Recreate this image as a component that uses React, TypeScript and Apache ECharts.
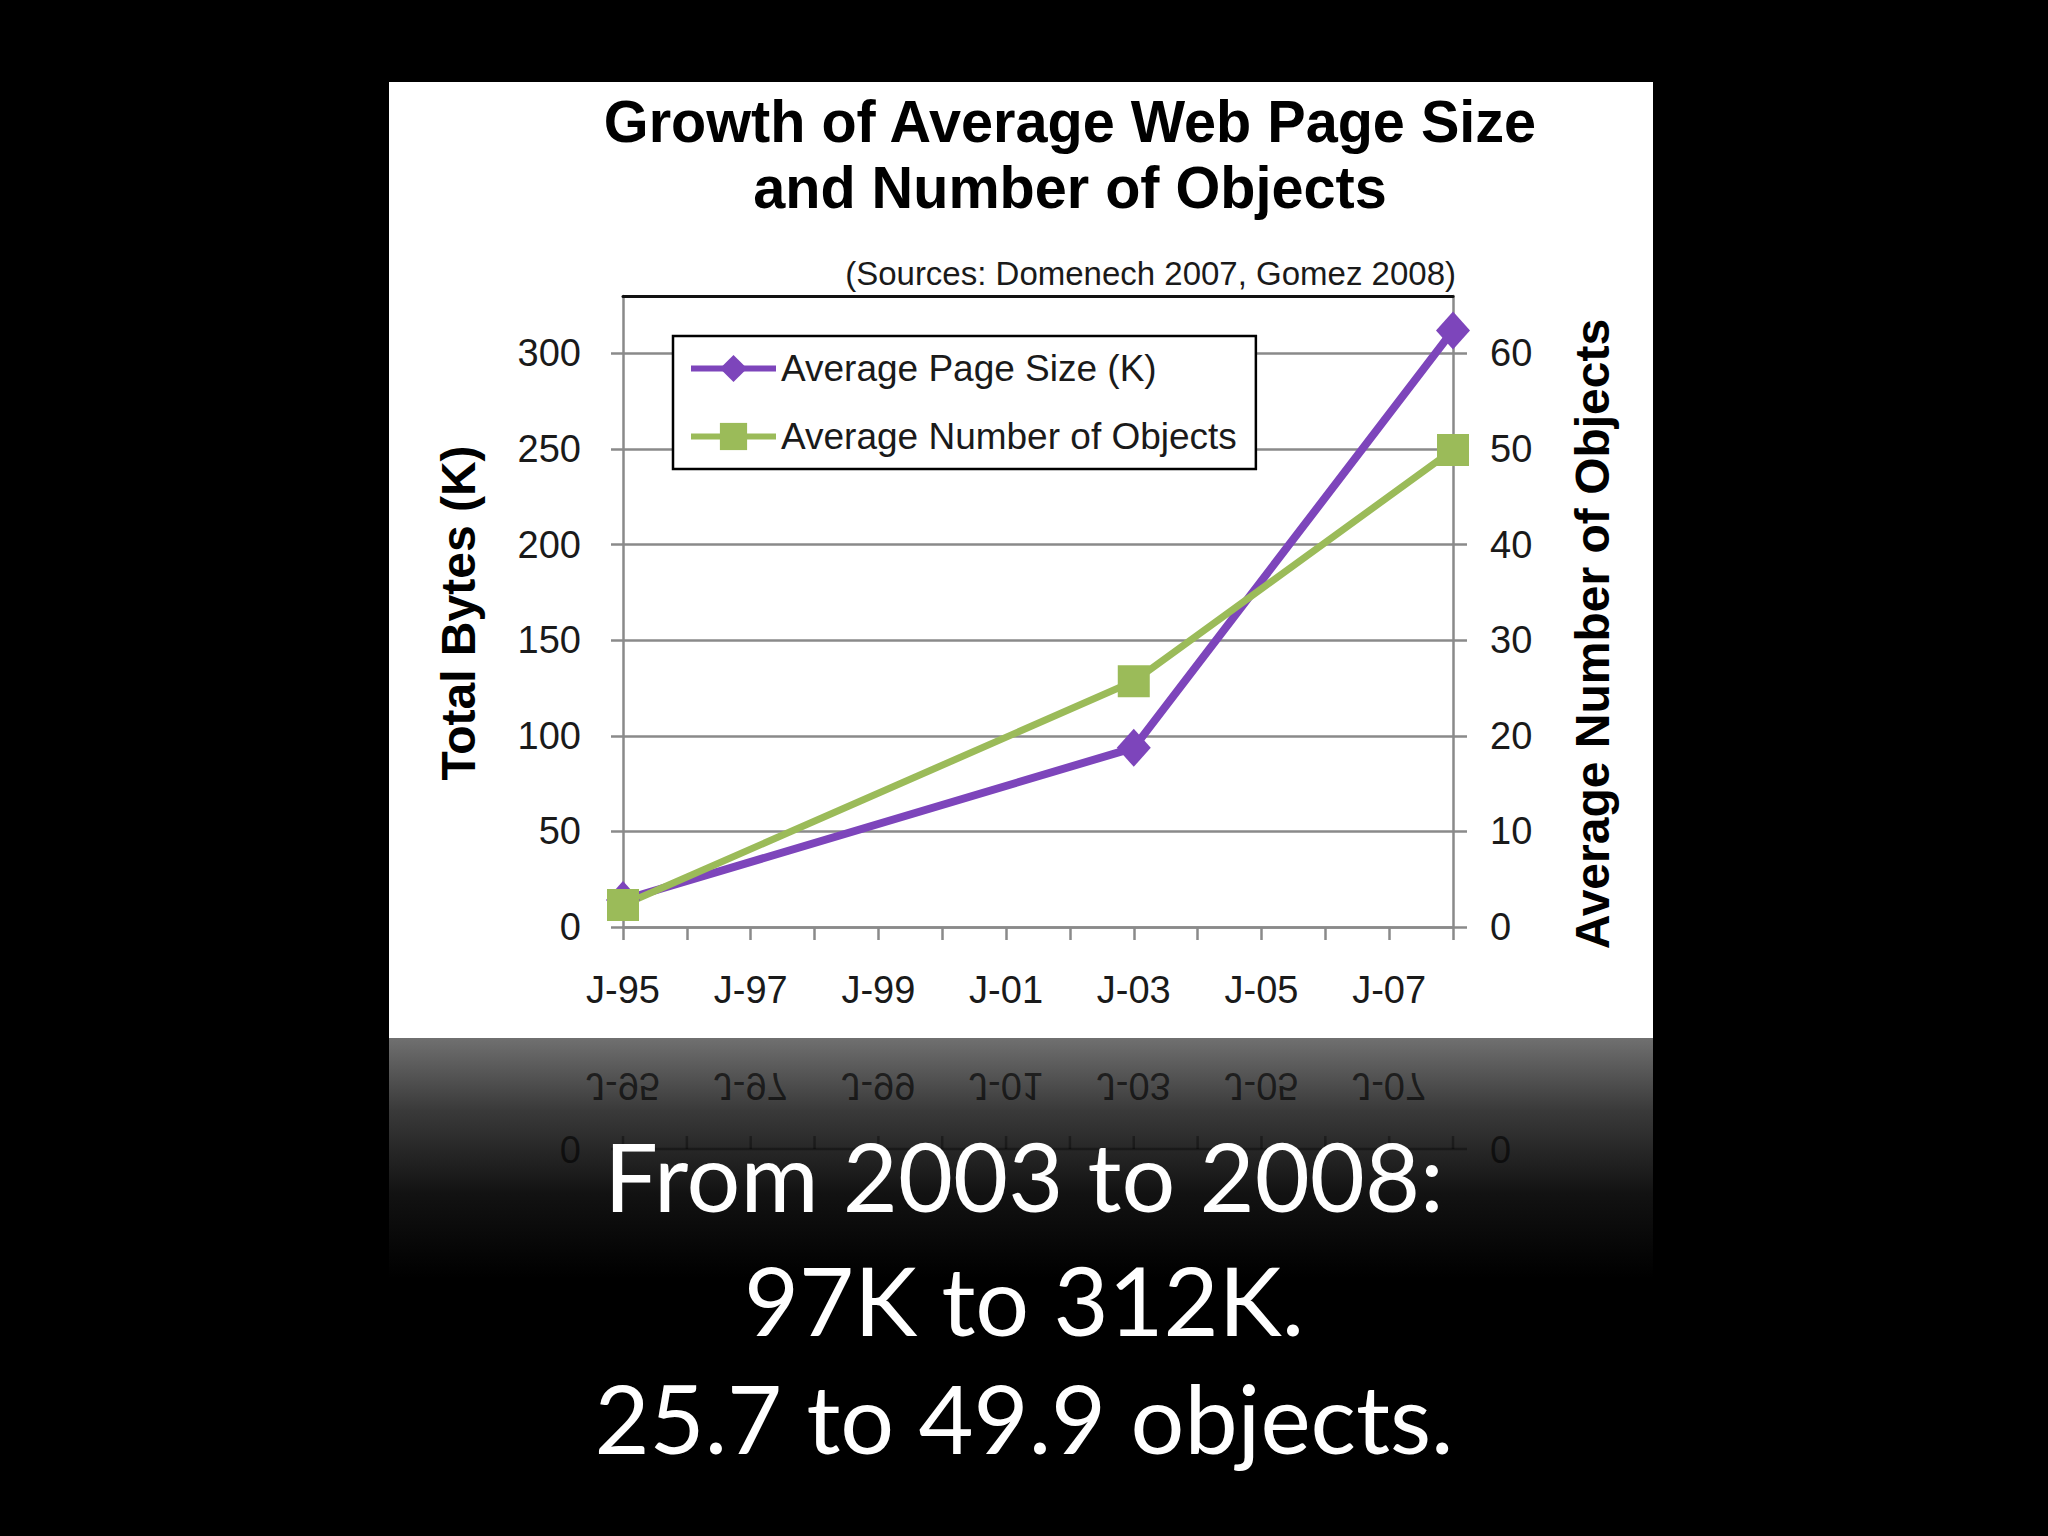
import React, { useEffect, useRef } from "react";
import * as echarts from "echarts";

// ---- data ----
const years = [1995, 2003, 2008];
const pageSizeK = [14.1, 93.7, 312];
const objectCount = [2.3, 25.7, 49.9];
const seriesNames = ["Average Page Size (K)", "Average Number of Objects"];
const leftTicks = [0, 50, 100, 150, 200, 250, 300];
const rightTicks = [0, 10, 20, 30, 40, 50, 60];
const xStart = 1995;
const xEnd = 2008;
const xLabelYears = [1995, 1997, 1999, 2001, 2003, 2005, 2007];
const titleLines = ["Growth of Average Web Page Size", "and Number of Objects"];
const sourceNote = "(Sources: Domenech 2007, Gomez 2008)";
const leftAxisTitle = "Total Bytes (K)";
const rightAxisTitle = "Average Number of Objects";
const captionLines = ["From 2003 to 2008:", "97K to 312K.", "25.7 to 49.9 objects."];

// ---- style ----
const PURPLE = "#7D45BB";
const GREEN = "#9BBB59";
const GRIDGRAY = "#8a8a8a";
const FONT = "'Liberation Sans', Arial, sans-serif";
const CAPTION_FONT = "'Gill Sans', Lato, 'Open Sans', sans-serif";

const fmtYear = (v: number) =>
  xLabelYears.indexOf(v) >= 0 ? "J-" + String(v).slice(2) : "";

const PANEL = { x: 389, y: 82, w: 1264, h: 956 };

export default function App() {
  const ref = useRef<HTMLDivElement>(null);
  useEffect(() => {
    const chart = echarts.init(ref.current!, null, { renderer: "svg" });
    const option: any = {
      animation: false,
      backgroundColor: "#000",
      grid: { left: 623, right: 595, top: 296, bottom: 609, containLabel: false },
      legend: {
        orient: "vertical",
        left: 673,
        top: 336,
        padding: [14, 19, 14, 15],
        itemGap: 31,
        itemWidth: 85,
        itemHeight: 34,
        borderColor: "#000",
        borderWidth: 2.5,
        backgroundColor: "#fff",
        lineStyle: { width: 6 },
        textStyle: { fontFamily: FONT, fontSize: 37, color: "#1a1a1a" },
        data: seriesNames,
      },
      xAxis: [
        {
          type: "value",
          min: xStart,
          max: xEnd,
          interval: 1,
          axisLine: { show: true, onZero: false, lineStyle: { color: GRIDGRAY, width: 2.5 } },
          axisTick: { show: true, length: 13, lineStyle: { color: GRIDGRAY, width: 2.5 } },
          axisLabel: {
            formatter: fmtYear,
            margin: 44,
            fontFamily: FONT,
            fontSize: 38,
            color: "#1a1a1a",
          },
          splitLine: { show: false },
        },
        {
          type: "value",
          position: "top",
          min: xStart,
          max: xEnd,
          interval: 1,
          axisLine: { show: true, onZero: false, lineStyle: { color: "#111", width: 3 } },
          axisTick: { show: false },
          axisLabel: { show: false },
          splitLine: { show: false },
        },
      ],
      yAxis: [
        {
          type: "value",
          min: 0,
          max: 330,
          interval: 50,
          axisLine: { show: true, lineStyle: { color: GRIDGRAY, width: 2.5 } },
          axisTick: { show: true, length: 12, customValues: leftTicks, lineStyle: { color: GRIDGRAY, width: 2.5 } },
          axisLabel: {
            customValues: leftTicks,
            margin: 42,
            fontFamily: FONT,
            fontSize: 38,
            color: "#1a1a1a",
          },
          splitLine: { show: true, lineStyle: { color: GRIDGRAY, width: 2.5 } },
        },
        {
          type: "value",
          min: 0,
          max: 66,
          interval: 10,
          position: "right",
          axisLine: { show: true, lineStyle: { color: GRIDGRAY, width: 2.5 } },
          axisTick: { show: true, length: 14, customValues: rightTicks, lineStyle: { color: GRIDGRAY, width: 2.5 } },
          axisLabel: {
            customValues: rightTicks,
            margin: 37,
            fontFamily: FONT,
            fontSize: 38,
            color: "#1a1a1a",
          },
          splitLine: { show: false },
        },
      ],
      series: [
        {
          type: "line",
          name: seriesNames[0],
          xAxisIndex: 0,
          yAxisIndex: 0,
          data: years.map((y, i) => [y, pageSizeK[i]]),
          symbol: "diamond",
          symbolSize: [34, 38],
          lineStyle: { color: PURPLE, width: 8 },
          itemStyle: { color: PURPLE },
        },
        {
          type: "line",
          name: seriesNames[1],
          xAxisIndex: 0,
          yAxisIndex: 1,
          data: years.map((y, i) => [y, objectCount[i]]),
          symbol: "rect",
          symbolSize: 32,
          lineStyle: { color: GREEN, width: 7 },
          itemStyle: { color: GREEN },
        },
      ],
    };
    chart.setOption(option);

    // positions from the library's own scales
    const x0 = chart.convertToPixel({ xAxisIndex: 0 }, xStart) as number;
    const x1 = chart.convertToPixel({ xAxisIndex: 0 }, xEnd) as number;
    const yZero = chart.convertToPixel({ yAxisIndex: 0 }, 0) as number;
    const mirrorY = PANEL.y + PANEL.h;
    const refl = (y: number) => 2 * mirrorY - y;
    const labelY = yZero + 63;

    const graphics: any[] = [
      {
        type: "rect",
        z: -10,
        silent: true,
        shape: { x: PANEL.x, y: PANEL.y, width: PANEL.w, height: PANEL.h },
        style: { fill: "#fff" },
      },
      {
        type: "rect",
        z: -10,
        silent: true,
        shape: { x: PANEL.x, y: mirrorY, width: PANEL.w, height: 240 },
        style: {
          fill: new echarts.graphic.LinearGradient(0, 0, 0, 1, [
            { offset: 0, color: "#707070" },
            { offset: 0.3, color: "#3a3a3a" },
            { offset: 0.65, color: "#121212" },
            { offset: 1, color: "#000" },
          ]),
        },
      },
      // reflected axis line
      {
        type: "line",
        z: -5,
        silent: true,
        shape: { x1: x0 - 12, y1: refl(yZero), x2: x1 + 14, y2: refl(yZero) },
        style: { stroke: "rgba(0,0,0,0.35)", lineWidth: 2.5 },
      },
      {
        type: "text",
        z: -5,
        silent: true,
        x: x0 - 42,
        y: refl(yZero),
        scaleY: -1,
        style: { text: "0", align: "right", verticalAlign: "middle", fontFamily: FONT, fontSize: 38, fill: "rgba(0,0,0,0.6)" },
      },
      {
        type: "text",
        z: -5,
        silent: true,
        x: x1 + 37,
        y: refl(yZero),
        scaleY: -1,
        style: { text: "0", align: "left", verticalAlign: "middle", fontFamily: FONT, fontSize: 38, fill: "rgba(0,0,0,0.6)" },
      },
      // titles
      {
        type: "text",
        x: 1070,
        y: 121,
        scaleX: 0.96,
        style: { text: titleLines[0], align: "center", verticalAlign: "middle", fontFamily: FONT, fontWeight: "bold", fontSize: 60, fill: "#000" },
      },
      {
        type: "text",
        x: 1070,
        y: 187,
        scaleX: 0.96,
        style: { text: titleLines[1], align: "center", verticalAlign: "middle", fontFamily: FONT, fontWeight: "bold", fontSize: 60, fill: "#000" },
      },
      {
        type: "text",
        x: 1456,
        y: 273,
        style: { text: sourceNote, align: "right", verticalAlign: "middle", fontFamily: FONT, fontSize: 33, fill: "#1a1a1a" },
      },
      {
        type: "text",
        x: 458,
        y: 613,
        rotation: Math.PI / 2,
        style: { text: leftAxisTitle, align: "center", verticalAlign: "middle", fontFamily: FONT, fontWeight: "bold", fontSize: 48, fill: "#000" },
      },
      {
        type: "text",
        x: 1592,
        y: 634,
        rotation: Math.PI / 2,
        style: { text: rightAxisTitle, align: "center", verticalAlign: "middle", fontFamily: FONT, fontWeight: "bold", fontSize: 48, fill: "#000" },
      },
    ];

    for (let yr = xStart; yr <= xEnd; yr++) {
      const px = chart.convertToPixel({ xAxisIndex: 0 }, yr) as number;
      graphics.push({
        type: "line",
        z: -5,
        silent: true,
        shape: { x1: px, y1: refl(yZero), x2: px, y2: refl(yZero) - 13 },
        style: { stroke: "rgba(0,0,0,0.35)", lineWidth: 2.5 },
      });
    }
    xLabelYears.forEach((yr) => {
      const px = chart.convertToPixel({ xAxisIndex: 0 }, yr) as number;
      graphics.push({
        type: "text",
        z: -5,
        silent: true,
        x: px,
        y: refl(labelY),
        scaleY: -1,
        style: { text: fmtYear(yr), align: "center", verticalAlign: "middle", fontFamily: FONT, fontSize: 38, fill: "rgba(0,0,0,0.65)" },
      });
    });

    const captionY = [1175, 1299, 1417];
    captionLines.forEach((line, i) => {
      graphics.push({
        type: "text",
        z: 10,
        x: 1024,
        y: captionY[i],
        style: { text: line, align: "center", verticalAlign: "middle", fontFamily: CAPTION_FONT, fontSize: 95, fill: "#fff" },
      });
    });

    chart.setOption({ graphic: graphics });
    return () => chart.dispose();
  }, []);
  return (
    <div
      ref={ref}
      style={{ position: "fixed", left: 0, top: 0, width: 2048, height: 1536 }}
    />
  );
}
